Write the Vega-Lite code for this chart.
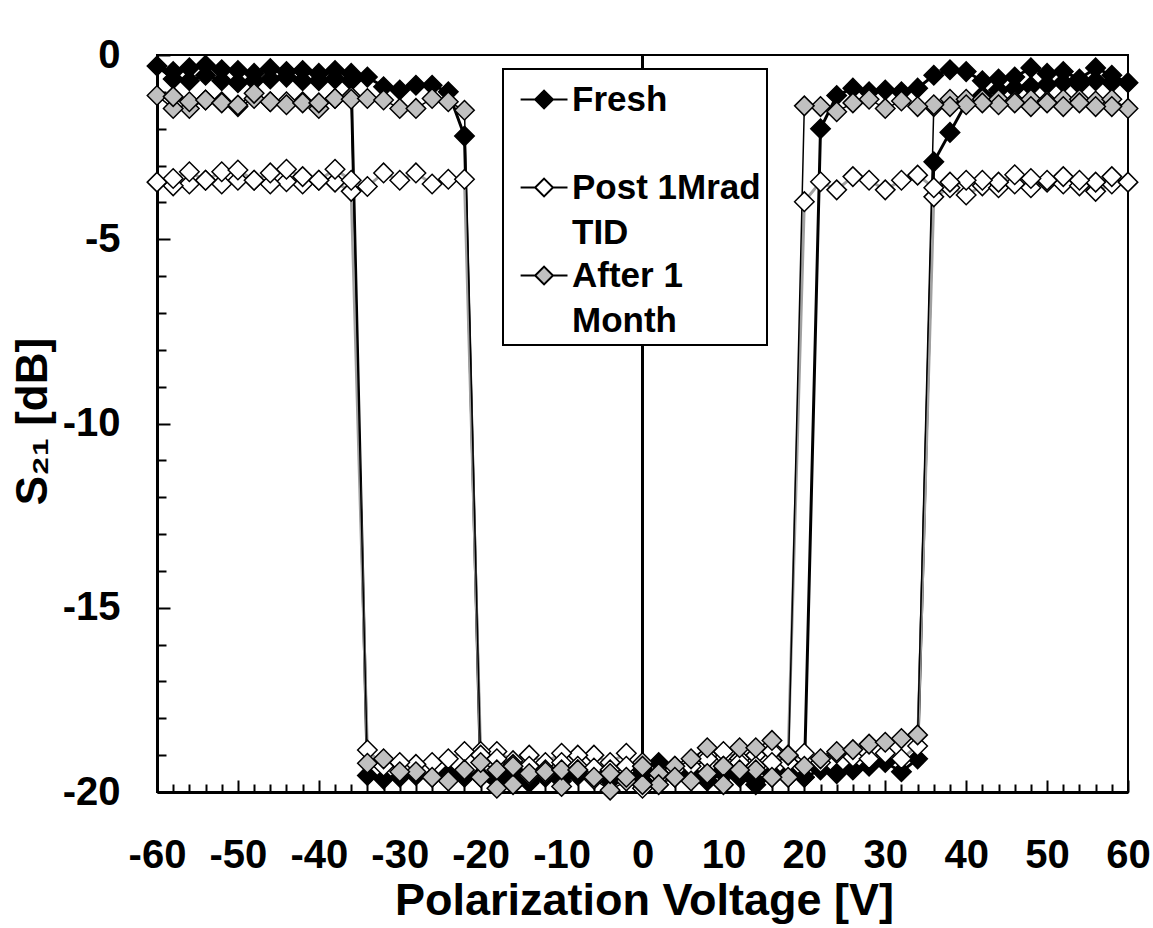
{
"$schema": "https://vega.github.io/schema/vega-lite/v6.json",
"width": 971, "height": 737,
"autosize": "none",
"padding": {"left": 157, "top": 55, "right": 25, "bottom": 136},
"background": "white",
"config": {"view": {"stroke": "black", "strokeWidth": 2}, "font": "Liberation Sans"},
"datasets": {"d": [
{"s":"F","i":0,"v":0,"d":-19.4},{"s":"F","i":1,"v":2,"d":-19.2},{"s":"F","i":2,"v":4,"d":-19.5},{"s":"F","i":3,"v":6,"d":-19.6},{"s":"F","i":4,"v":8,"d":-19.5},{"s":"F","i":5,"v":10,"d":-19.4},{"s":"F","i":6,"v":12,"d":-19.3},{"s":"F","i":7,"v":14,"d":-19.7},{"s":"F","i":8,"v":16,"d":-19.5},{"s":"F","i":9,"v":18,"d":-19.6},{"s":"F","i":10,"v":20,"d":-19.6},{"s":"F","i":11,"v":22,"d":-19.4},{"s":"F","i":12,"v":24,"d":-19.5},{"s":"F","i":13,"v":26,"d":-19.4},{"s":"F","i":14,"v":28,"d":-19.3},{"s":"F","i":15,"v":30,"d":-19.2},{"s":"F","i":16,"v":32,"d":-19.45},{"s":"F","i":17,"v":34,"d":-19.1},{"s":"F","i":18,"v":36,"d":-2.9},{"s":"F","i":19,"v":38,"d":-2.1},{"s":"F","i":20,"v":40,"d":-1.3},{"s":"F","i":21,"v":42,"d":-1.1},{"s":"F","i":22,"v":44,"d":-0.95},{"s":"F","i":23,"v":46,"d":-0.9},{"s":"F","i":24,"v":48,"d":-0.85},{"s":"F","i":25,"v":50,"d":-0.8},{"s":"F","i":26,"v":52,"d":-0.75},{"s":"F","i":27,"v":54,"d":-0.8},{"s":"F","i":28,"v":56,"d":-0.7},{"s":"F","i":29,"v":58,"d":-0.75},{"s":"F","i":30,"v":60,"d":-0.75},
{"s":"F","i":31,"v":58,"d":-0.55},{"s":"F","i":32,"v":56,"d":-0.35},{"s":"F","i":33,"v":54,"d":-0.65},{"s":"F","i":34,"v":52,"d":-0.45},{"s":"F","i":35,"v":50,"d":-0.5},{"s":"F","i":36,"v":48,"d":-0.35},{"s":"F","i":37,"v":46,"d":-0.6},{"s":"F","i":38,"v":44,"d":-0.65},{"s":"F","i":39,"v":42,"d":-0.7},{"s":"F","i":40,"v":40,"d":-0.45},{"s":"F","i":41,"v":38,"d":-0.4},{"s":"F","i":42,"v":36,"d":-0.55},{"s":"F","i":43,"v":34,"d":-0.9},{"s":"F","i":44,"v":32,"d":-1.0},{"s":"F","i":45,"v":30,"d":-0.95},{"s":"F","i":46,"v":28,"d":-1.0},{"s":"F","i":47,"v":26,"d":-0.9},{"s":"F","i":48,"v":24,"d":-1.1},{"s":"F","i":49,"v":22,"d":-2.0},{"s":"F","i":50,"v":20,"d":-19.6},{"s":"F","i":51,"v":18,"d":-19.5},{"s":"F","i":52,"v":16,"d":-19.6},{"s":"F","i":53,"v":14,"d":-19.8},{"s":"F","i":54,"v":12,"d":-19.6},{"s":"F","i":55,"v":10,"d":-19.5},{"s":"F","i":56,"v":8,"d":-19.7},{"s":"F","i":57,"v":6,"d":-19.5},{"s":"F","i":58,"v":4,"d":-19.6},{"s":"F","i":59,"v":2,"d":-19.5},{"s":"F","i":60,"v":0,"d":-19.7},{"s":"F","i":61,"v":-2,"d":-19.6},{"s":"F","i":62,"v":-4,"d":-19.7},{"s":"F","i":63,"v":-6,"d":-19.6},{"s":"F","i":64,"v":-8,"d":-19.55},{"s":"F","i":65,"v":-10,"d":-19.7},{"s":"F","i":66,"v":-12,"d":-19.6},{"s":"F","i":67,"v":-14,"d":-19.75},{"s":"F","i":68,"v":-16,"d":-19.6},{"s":"F","i":69,"v":-18,"d":-19.7},{"s":"F","i":70,"v":-20,"d":-19.55},{"s":"F","i":71,"v":-22,"d":-19.6},{"s":"F","i":72,"v":-24,"d":-19.5},{"s":"F","i":73,"v":-26,"d":-19.6},{"s":"F","i":74,"v":-28,"d":-19.55},{"s":"F","i":75,"v":-30,"d":-19.6},{"s":"F","i":76,"v":-32,"d":-19.65},{"s":"F","i":77,"v":-34,"d":-19.55},{"s":"F","i":78,"v":-36,"d":-0.7},{"s":"F","i":79,"v":-38,"d":-0.65},{"s":"F","i":80,"v":-40,"d":-0.7},{"s":"F","i":81,"v":-42,"d":-0.7},{"s":"F","i":82,"v":-44,"d":-0.6},{"s":"F","i":83,"v":-46,"d":-0.65},{"s":"F","i":84,"v":-48,"d":-0.7},{"s":"F","i":85,"v":-50,"d":-0.75},{"s":"F","i":86,"v":-52,"d":-0.7},{"s":"F","i":87,"v":-54,"d":-0.55},{"s":"F","i":88,"v":-56,"d":-0.7},{"s":"F","i":89,"v":-58,"d":-0.65},{"s":"F","i":90,"v":-60,"d":-0.3},
{"s":"F","i":91,"v":-58,"d":-0.45},{"s":"F","i":92,"v":-56,"d":-0.35},{"s":"F","i":93,"v":-54,"d":-0.28},{"s":"F","i":94,"v":-52,"d":-0.4},{"s":"F","i":95,"v":-50,"d":-0.42},{"s":"F","i":96,"v":-48,"d":-0.5},{"s":"F","i":97,"v":-46,"d":-0.37},{"s":"F","i":98,"v":-44,"d":-0.45},{"s":"F","i":99,"v":-42,"d":-0.42},{"s":"F","i":100,"v":-40,"d":-0.5},{"s":"F","i":101,"v":-38,"d":-0.42},{"s":"F","i":102,"v":-36,"d":-0.5},{"s":"F","i":103,"v":-34,"d":-0.6},{"s":"F","i":104,"v":-32,"d":-0.86},{"s":"F","i":105,"v":-30,"d":-0.95},{"s":"F","i":106,"v":-28,"d":-0.82},{"s":"F","i":107,"v":-26,"d":-0.82},{"s":"F","i":108,"v":-24,"d":-1.0},{"s":"F","i":109,"v":-22,"d":-2.2},{"s":"F","i":110,"v":-20,"d":-19.6},{"s":"F","i":111,"v":-18,"d":-19.5},{"s":"F","i":112,"v":-16,"d":-19.4},{"s":"F","i":113,"v":-14,"d":-19.7},{"s":"F","i":114,"v":-12,"d":-19.5},{"s":"F","i":115,"v":-10,"d":-19.6},{"s":"F","i":116,"v":-8,"d":-19.5},{"s":"F","i":117,"v":-6,"d":-19.6},{"s":"F","i":118,"v":-4,"d":-19.5},{"s":"F","i":119,"v":-2,"d":-19.6},{"s":"F","i":120,"v":0,"d":-19.5},
{"s":"P","i":0,"v":0,"d":-19.8},{"s":"P","i":1,"v":2,"d":-19.6},{"s":"P","i":2,"v":4,"d":-19.3},{"s":"P","i":3,"v":6,"d":-19.2},{"s":"P","i":4,"v":8,"d":-19.0},{"s":"P","i":5,"v":10,"d":-18.9},{"s":"P","i":6,"v":12,"d":-19.1},{"s":"P","i":7,"v":14,"d":-19.0},{"s":"P","i":8,"v":16,"d":-18.9},{"s":"P","i":9,"v":18,"d":-19.2},{"s":"P","i":10,"v":20,"d":-18.95},{"s":"P","i":11,"v":22,"d":-19.2},{"s":"P","i":12,"v":24,"d":-18.95},{"s":"P","i":13,"v":26,"d":-19.05},{"s":"P","i":14,"v":28,"d":-19.1},{"s":"P","i":15,"v":30,"d":-18.95},{"s":"P","i":16,"v":32,"d":-19.1},{"s":"P","i":17,"v":34,"d":-18.75},{"s":"P","i":18,"v":36,"d":-3.85},{"s":"P","i":19,"v":38,"d":-3.6},{"s":"P","i":20,"v":40,"d":-3.8},{"s":"P","i":21,"v":42,"d":-3.55},{"s":"P","i":22,"v":44,"d":-3.6},{"s":"P","i":23,"v":46,"d":-3.5},{"s":"P","i":24,"v":48,"d":-3.6},{"s":"P","i":25,"v":50,"d":-3.45},{"s":"P","i":26,"v":52,"d":-3.5},{"s":"P","i":27,"v":54,"d":-3.55},{"s":"P","i":28,"v":56,"d":-3.7},{"s":"P","i":29,"v":58,"d":-3.5},{"s":"P","i":30,"v":60,"d":-3.45},
{"s":"P","i":31,"v":58,"d":-3.3},{"s":"P","i":32,"v":56,"d":-3.45},{"s":"P","i":33,"v":54,"d":-3.4},{"s":"P","i":34,"v":52,"d":-3.3},{"s":"P","i":35,"v":50,"d":-3.4},{"s":"P","i":36,"v":48,"d":-3.35},{"s":"P","i":37,"v":46,"d":-3.25},{"s":"P","i":38,"v":44,"d":-3.45},{"s":"P","i":39,"v":42,"d":-3.4},{"s":"P","i":40,"v":40,"d":-3.4},{"s":"P","i":41,"v":38,"d":-3.45},{"s":"P","i":42,"v":36,"d":-3.6},{"s":"P","i":43,"v":34,"d":-3.26},{"s":"P","i":44,"v":32,"d":-3.4},{"s":"P","i":45,"v":30,"d":-3.66},{"s":"P","i":46,"v":28,"d":-3.4},{"s":"P","i":47,"v":26,"d":-3.3},{"s":"P","i":48,"v":24,"d":-3.66},{"s":"P","i":49,"v":22,"d":-3.44},{"s":"P","i":50,"v":20,"d":-3.98},{"s":"P","i":51,"v":18,"d":-19.0},{"s":"P","i":52,"v":16,"d":-19.2},{"s":"P","i":53,"v":14,"d":-19.3},{"s":"P","i":54,"v":12,"d":-19.2},{"s":"P","i":55,"v":10,"d":-19.3},{"s":"P","i":56,"v":8,"d":-19.1},{"s":"P","i":57,"v":6,"d":-19.3},{"s":"P","i":58,"v":4,"d":-19.4},{"s":"P","i":59,"v":2,"d":-19.5},{"s":"P","i":60,"v":0,"d":-19.9},{"s":"P","i":61,"v":-2,"d":-18.95},{"s":"P","i":62,"v":-4,"d":-19.2},{"s":"P","i":63,"v":-6,"d":-19.0},{"s":"P","i":64,"v":-8,"d":-19.0},{"s":"P","i":65,"v":-10,"d":-18.95},{"s":"P","i":66,"v":-12,"d":-19.2},{"s":"P","i":67,"v":-14,"d":-19.0},{"s":"P","i":68,"v":-16,"d":-19.15},{"s":"P","i":69,"v":-18,"d":-18.9},{"s":"P","i":70,"v":-20,"d":-18.9},{"s":"P","i":71,"v":-22,"d":-18.9},{"s":"P","i":72,"v":-24,"d":-19.1},{"s":"P","i":73,"v":-26,"d":-19.2},{"s":"P","i":74,"v":-28,"d":-19.25},{"s":"P","i":75,"v":-30,"d":-19.2},{"s":"P","i":76,"v":-32,"d":-19.3},{"s":"P","i":77,"v":-34,"d":-18.86},{"s":"P","i":78,"v":-36,"d":-3.7},{"s":"P","i":79,"v":-38,"d":-3.45},{"s":"P","i":80,"v":-40,"d":-3.4},{"s":"P","i":81,"v":-42,"d":-3.5},{"s":"P","i":82,"v":-44,"d":-3.44},{"s":"P","i":83,"v":-46,"d":-3.5},{"s":"P","i":84,"v":-48,"d":-3.4},{"s":"P","i":85,"v":-50,"d":-3.4},{"s":"P","i":86,"v":-52,"d":-3.5},{"s":"P","i":87,"v":-54,"d":-3.4},{"s":"P","i":88,"v":-56,"d":-3.5},{"s":"P","i":89,"v":-58,"d":-3.55},{"s":"P","i":90,"v":-60,"d":-3.45},
{"s":"P","i":91,"v":-58,"d":-3.35},{"s":"P","i":92,"v":-56,"d":-3.17},{"s":"P","i":93,"v":-54,"d":-3.4},{"s":"P","i":94,"v":-52,"d":-3.17},{"s":"P","i":95,"v":-50,"d":-3.12},{"s":"P","i":96,"v":-48,"d":-3.4},{"s":"P","i":97,"v":-46,"d":-3.2},{"s":"P","i":98,"v":-44,"d":-3.1},{"s":"P","i":99,"v":-42,"d":-3.3},{"s":"P","i":100,"v":-40,"d":-3.4},{"s":"P","i":101,"v":-38,"d":-3.1},{"s":"P","i":102,"v":-36,"d":-3.4},{"s":"P","i":103,"v":-34,"d":-3.57},{"s":"P","i":104,"v":-32,"d":-3.2},{"s":"P","i":105,"v":-30,"d":-3.4},{"s":"P","i":106,"v":-28,"d":-3.2},{"s":"P","i":107,"v":-26,"d":-3.5},{"s":"P","i":108,"v":-24,"d":-3.37},{"s":"P","i":109,"v":-22,"d":-3.37},{"s":"P","i":110,"v":-20,"d":-19.0},{"s":"P","i":111,"v":-18,"d":-19.1},{"s":"P","i":112,"v":-16,"d":-19.25},{"s":"P","i":113,"v":-14,"d":-19.3},{"s":"P","i":114,"v":-12,"d":-19.4},{"s":"P","i":115,"v":-10,"d":-19.2},{"s":"P","i":116,"v":-8,"d":-19.3},{"s":"P","i":117,"v":-6,"d":-19.35},{"s":"P","i":118,"v":-4,"d":-19.4},{"s":"P","i":119,"v":-2,"d":-19.3},{"s":"P","i":120,"v":0,"d":-19.3},
{"s":"A","i":0,"v":0,"d":-19.2},{"s":"A","i":1,"v":2,"d":-19.5},{"s":"A","i":2,"v":4,"d":-19.3},{"s":"A","i":3,"v":6,"d":-19.1},{"s":"A","i":4,"v":8,"d":-18.8},{"s":"A","i":5,"v":10,"d":-19.3},{"s":"A","i":6,"v":12,"d":-18.8},{"s":"A","i":7,"v":14,"d":-18.8},{"s":"A","i":8,"v":16,"d":-18.6},{"s":"A","i":9,"v":18,"d":-19.0},{"s":"A","i":10,"v":20,"d":-19.3},{"s":"A","i":11,"v":22,"d":-19.1},{"s":"A","i":12,"v":24,"d":-18.9},{"s":"A","i":13,"v":26,"d":-18.85},{"s":"A","i":14,"v":28,"d":-18.7},{"s":"A","i":15,"v":30,"d":-18.65},{"s":"A","i":16,"v":32,"d":-18.55},{"s":"A","i":17,"v":34,"d":-18.45},{"s":"A","i":18,"v":36,"d":-1.4},{"s":"A","i":19,"v":38,"d":-1.2},{"s":"A","i":20,"v":40,"d":-1.2},{"s":"A","i":21,"v":42,"d":-1.2},{"s":"A","i":22,"v":44,"d":-1.2},{"s":"A","i":23,"v":46,"d":-1.25},{"s":"A","i":24,"v":48,"d":-1.2},{"s":"A","i":25,"v":50,"d":-1.25},{"s":"A","i":26,"v":52,"d":-1.2},{"s":"A","i":27,"v":54,"d":-1.2},{"s":"A","i":28,"v":56,"d":-1.25},{"s":"A","i":29,"v":58,"d":-1.2},{"s":"A","i":30,"v":60,"d":-1.45},
{"s":"A","i":31,"v":58,"d":-1.4},{"s":"A","i":32,"v":56,"d":-1.4},{"s":"A","i":33,"v":54,"d":-1.3},{"s":"A","i":34,"v":52,"d":-1.4},{"s":"A","i":35,"v":50,"d":-1.3},{"s":"A","i":36,"v":48,"d":-1.4},{"s":"A","i":37,"v":46,"d":-1.3},{"s":"A","i":38,"v":44,"d":-1.35},{"s":"A","i":39,"v":42,"d":-1.3},{"s":"A","i":40,"v":40,"d":-1.35},{"s":"A","i":41,"v":38,"d":-1.4},{"s":"A","i":42,"v":36,"d":-1.35},{"s":"A","i":43,"v":34,"d":-1.4},{"s":"A","i":44,"v":32,"d":-1.25},{"s":"A","i":45,"v":30,"d":-1.45},{"s":"A","i":46,"v":28,"d":-1.2},{"s":"A","i":47,"v":26,"d":-1.3},{"s":"A","i":48,"v":24,"d":-1.54},{"s":"A","i":49,"v":22,"d":-1.4},{"s":"A","i":50,"v":20,"d":-1.38},{"s":"A","i":51,"v":18,"d":-19.6},{"s":"A","i":52,"v":16,"d":-19.6},{"s":"A","i":53,"v":14,"d":-19.4},{"s":"A","i":54,"v":12,"d":-19.4},{"s":"A","i":55,"v":10,"d":-19.8},{"s":"A","i":56,"v":8,"d":-19.5},{"s":"A","i":57,"v":6,"d":-19.7},{"s":"A","i":58,"v":4,"d":-19.6},{"s":"A","i":59,"v":2,"d":-19.8},{"s":"A","i":60,"v":0,"d":-19.8},{"s":"A","i":61,"v":-2,"d":-19.7},{"s":"A","i":62,"v":-4,"d":-19.95},{"s":"A","i":63,"v":-6,"d":-19.65},{"s":"A","i":64,"v":-8,"d":-19.4},{"s":"A","i":65,"v":-10,"d":-19.85},{"s":"A","i":66,"v":-12,"d":-19.5},{"s":"A","i":67,"v":-14,"d":-19.55},{"s":"A","i":68,"v":-16,"d":-19.8},{"s":"A","i":69,"v":-18,"d":-19.9},{"s":"A","i":70,"v":-20,"d":-19.6},{"s":"A","i":71,"v":-22,"d":-19.4},{"s":"A","i":72,"v":-24,"d":-19.7},{"s":"A","i":73,"v":-26,"d":-19.6},{"s":"A","i":74,"v":-28,"d":-19.45},{"s":"A","i":75,"v":-30,"d":-19.45},{"s":"A","i":76,"v":-32,"d":-19.1},{"s":"A","i":77,"v":-34,"d":-19.22},{"s":"A","i":78,"v":-36,"d":-1.13},{"s":"A","i":79,"v":-38,"d":-1.18},{"s":"A","i":80,"v":-40,"d":-1.45},{"s":"A","i":81,"v":-42,"d":-1.27},{"s":"A","i":82,"v":-44,"d":-1.27},{"s":"A","i":83,"v":-46,"d":-1.27},{"s":"A","i":84,"v":-48,"d":-1.18},{"s":"A","i":85,"v":-50,"d":-1.4},{"s":"A","i":86,"v":-52,"d":-1.27},{"s":"A","i":87,"v":-54,"d":-1.22},{"s":"A","i":88,"v":-56,"d":-1.45},{"s":"A","i":89,"v":-58,"d":-1.45},{"s":"A","i":90,"v":-60,"d":-1.1},
{"s":"A","i":91,"v":-58,"d":-1.13},{"s":"A","i":92,"v":-56,"d":-1.27},{"s":"A","i":93,"v":-54,"d":-1.22},{"s":"A","i":94,"v":-52,"d":-1.3},{"s":"A","i":95,"v":-50,"d":-1.36},{"s":"A","i":96,"v":-48,"d":-1.04},{"s":"A","i":97,"v":-46,"d":-1.27},{"s":"A","i":98,"v":-44,"d":-1.35},{"s":"A","i":99,"v":-42,"d":-1.3},{"s":"A","i":100,"v":-40,"d":-1.3},{"s":"A","i":101,"v":-38,"d":-1.18},{"s":"A","i":102,"v":-36,"d":-1.2},{"s":"A","i":103,"v":-34,"d":-1.18},{"s":"A","i":104,"v":-32,"d":-1.22},{"s":"A","i":105,"v":-30,"d":-1.45},{"s":"A","i":106,"v":-28,"d":-1.45},{"s":"A","i":107,"v":-26,"d":-1.18},{"s":"A","i":108,"v":-24,"d":-1.27},{"s":"A","i":109,"v":-22,"d":-1.5},{"s":"A","i":110,"v":-20,"d":-19.2},{"s":"A","i":111,"v":-18,"d":-19.4},{"s":"A","i":112,"v":-16,"d":-19.3},{"s":"A","i":113,"v":-14,"d":-19.5},{"s":"A","i":114,"v":-12,"d":-19.45},{"s":"A","i":115,"v":-10,"d":-19.4},{"s":"A","i":116,"v":-8,"d":-19.4},{"s":"A","i":117,"v":-6,"d":-19.6},{"s":"A","i":118,"v":-4,"d":-19.5},{"s":"A","i":119,"v":-2,"d":-19.6},{"s":"A","i":120,"v":0,"d":-19.3}
]},
"data": {"name": "d"},
"layer": [
{"mark": {"type": "rule", "color": "black", "strokeWidth": 2},
 "encoding": {"x": {"datum": 0, "type": "quantitative", "scale": {"domain": [-60, 60], "nice": false},
   "axis": {"orient": "bottom", "values": [-60,-50,-40,-30,-20,-10,0,10,20,30,40,50,60], "labels": false, "domain": false, "grid": false, "title": null, "tickSize": -12, "tickWidth": 2, "tickColor": "black"}}}},
{"transform": [{"filter": "datum.s == 'F'"}],
 "mark": {"type": "line", "color": "black", "strokeWidth": 3},
 "encoding": {
  "x": {"field": "v", "type": "quantitative", "scale": {"domain": [-60, 60], "nice": false},
   "axis": {"orient": "bottom", "values": [-60,-50,-40,-30,-20,-10,0,10,20,30,40,50,60], "ticks": false, "tickSize": 0, "grid": false, "domainColor": "black", "domainWidth": 3, "labelExpr": "toString(datum.value)", "labelFont": "Liberation Sans", "labelFontSize": 40, "labelFontWeight": "bold", "labelColor": "black", "labelPadding": 43, "labelFlush": false, "labelOverlap": false, "title": "Polarization Voltage [V]", "titleFont": "Liberation Sans", "titleFontSize": 45, "titleFontWeight": "bold", "titleColor": "black", "titleX": 487, "titleY": 122, "titleAlign": "center", "titleBaseline": "alphabetic"}},
  "y": {"field": "d", "type": "quantitative", "scale": {"domain": [-20, 0], "nice": false},
   "axis": {"orient": "left", "values": [-20,-15,-10,-5,0], "ticks": false, "tickSize": 0, "grid": false, "domainColor": "black", "domainWidth": 3, "labelExpr": "toString(datum.value)", "labelFont": "Liberation Sans", "labelFontSize": 40, "labelFontWeight": "bold", "labelColor": "black", "labelPadding": 37, "labelFlush": false, "labelOverlap": false, "title": "S₂₁ [dB]", "titleFont": "Liberation Sans", "titleFontSize": 44, "titleFontWeight": "bold", "titleColor": "black", "titleAngle": -90, "titleX": -124, "titleY": 366, "titleAlign": "center", "titleBaseline": "middle"}},
  "order": {"field": "i", "type": "quantitative"}}},
{"transform": [{"filter": "datum.s == 'P'"}],
 "mark": {"type": "line", "color": "#a0a0a0", "strokeWidth": 3},
 "encoding": {
  "x": {"field": "v", "type": "quantitative", "axis": null},
  "y": {"field": "d", "type": "quantitative",
   "axis": {"orient": "left", "values": [-20,-15,-10,-5,0], "labels": false, "domain": false, "grid": false, "title": null, "tickSize": -13, "tickWidth": 2, "tickColor": "black"}},
  "order": {"field": "i", "type": "quantitative"}}},
{"transform": [{"filter": "datum.s == 'A'"}],
 "mark": {"type": "line", "color": "black", "strokeWidth": 1.5},
 "encoding": {
  "x": {"field": "v", "type": "quantitative", "axis": null},
  "y": {"field": "d", "type": "quantitative", "axis": null},
  "order": {"field": "i", "type": "quantitative"}}},
{"mark": {"type": "point", "shape": "diamond", "filled": true, "size": 380, "stroke": "black", "strokeWidth": 1.5, "opacity": 1},
 "encoding": {
  "x": {"field": "v", "type": "quantitative",
   "axis": {"orient": "bottom", "values": [-58,-56,-54,-52,-48,-46,-44,-42,-38,-36,-34,-32,-28,-26,-24,-22,-18,-16,-14,-12,-8,-6,-4,-2,2,4,6,8,12,14,16,18,22,24,26,28,32,34,36,38,42,44,46,48,52,54,56,58], "labels": false, "domain": false, "grid": false, "title": null, "tickSize": -8, "tickWidth": 2, "tickColor": "black"}},
  "y": {"field": "d", "type": "quantitative",
   "axis": {"orient": "left", "values": [-19,-18,-17,-16,-14,-13,-12,-11,-9,-8,-7,-6,-4,-3,-2,-1], "labels": false, "domain": false, "grid": false, "title": null, "tickSize": -9, "tickWidth": 2, "tickColor": "black"}},
  "fill": {"field": "s", "type": "nominal", "scale": {"domain": ["F", "P", "A"], "range": ["black", "white", "#c0c0c0"]},
   "legend": {"orient": "none", "legendX": 346, "legendY": 14, "title": null, "fillColor": "white", "strokeColor": "black", "padding": 6, "rowPadding": 0,
    "labelFont": "Liberation Sans", "labelFontSize": 35, "labelFontWeight": "bold", "labelColor": "black", "labelOffset": 14, "labelLimit": 500,
    "labelExpr": "datum.value == 'F' ? ['Fresh', ' '] : datum.value == 'P' ? ['Post 1Mrad', 'TID'] : ['After 1', 'Month']",
    "symbolType": "M-0.55,0L0.07,0M0.83,0L1.45,0M0.45,-0.38L0.83,0L0.45,0.38L0.07,0Z", "symbolSize": 2200, "symbolStrokeColor": "black", "symbolStrokeWidth": 2, "symbolOpacity": 1,
    "encode": {"labels": {"update": {"lineHeight": {"value": 45}}}, "legend": {"update": {"strokeWidth": {"value": 2}, "width": {"value": 278}}}}}}}}
],
"resolve": {"axis": {"x": "independent", "y": "independent"}}
}
